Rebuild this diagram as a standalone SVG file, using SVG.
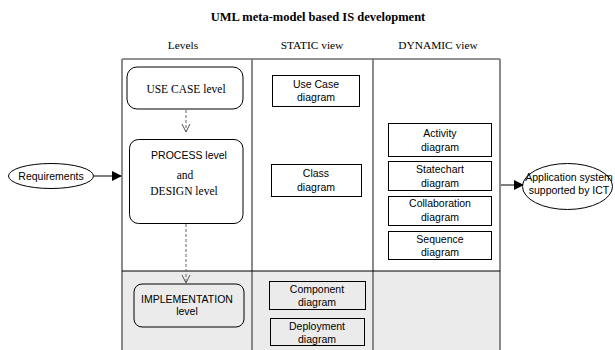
<svg xmlns="http://www.w3.org/2000/svg" width="615" height="350" viewBox="0 0 615 350">
  <style>
    .serif { font-family: "Liberation Serif", "Times New Roman", serif; fill: #000; }
    .sans { font-family: "Liberation Sans", Arial, sans-serif; font-size: 10.5px; fill: #000; }
    .hdr { font-size: 11.4px; }
    .lvl { fill: #fff; stroke: #000; stroke-width: 1; }
    .dia { fill: #fff; stroke: #000; stroke-width: 1; }
    .band { fill: #ebebeb; }
    .col { stroke: #6e6e6e; stroke-width: 1.6; fill: none; }
    .dash { stroke: #666; stroke-width: 1; stroke-dasharray: 3 2; fill: none; }
    .flow { stroke: #000; stroke-width: 1; fill: none; }
  </style>
  <defs>
    <marker id="open" viewBox="0 0 10 10" refX="9" refY="5" markerWidth="10" markerHeight="10" markerUnits="userSpaceOnUse" orient="auto">
      <path d="M1,1 L9,5 L1,9" fill="none" stroke="#555" stroke-width="1"/>
    </marker>
    <marker id="solid" viewBox="0 0 10 10" refX="9" refY="5" markerWidth="10" markerHeight="10" markerUnits="userSpaceOnUse" orient="auto">
      <path d="M0,0 L10,5 L0,10 Z" fill="#000"/>
    </marker>
  </defs>

  <rect width="615" height="350" fill="#fff"/>

  <!-- title and column headers -->
  <text class="serif" x="318" y="21" font-size="12.5" font-weight="bold" text-anchor="middle">UML meta-model based IS development</text>
  <text class="serif hdr" x="183" y="49" text-anchor="middle">Levels</text>
  <text class="serif hdr" x="312" y="49" text-anchor="middle">STATIC view</text>
  <text class="serif hdr" x="438" y="49" text-anchor="middle">DYNAMIC view</text>

  <!-- grid: implementation band and columns -->
  <g id="grid">
    <rect class="band" x="122" y="271" width="378" height="79"/>
    <line class="col" x1="122" y1="59" x2="500" y2="59"/>
    <line class="col" x1="122" y1="59" x2="122" y2="350"/>
    <line class="col" x1="252" y1="59" x2="252" y2="350"/>
    <line class="col" x1="373" y1="59" x2="373" y2="350"/>
    <line class="col" x1="500" y1="59" x2="500" y2="350"/>
    <line x1="122" y1="271" x2="500" y2="271" stroke="#000" stroke-width="1.2"/>
  </g>

  <!-- connectors -->
  <g id="connectors">
    <line class="dash" x1="186" y1="110" x2="186" y2="132" marker-end="url(#open)"/>
    <line class="dash" x1="186" y1="224" x2="186" y2="283" marker-end="url(#open)"/>
    <line class="flow" x1="94" y1="176" x2="121" y2="176" marker-end="url(#solid)"/>
    <line class="flow" x1="501" y1="185" x2="523" y2="185" marker-end="url(#solid)"/>
  </g>

  <!-- external actors -->
  <g id="requirements">
    <ellipse cx="51" cy="176" rx="42.5" ry="12.5" fill="#fff" stroke="#000"/>
    <text class="sans" x="51" y="180" text-anchor="middle">Requirements</text>
  </g>
  <g id="application-system">
    <ellipse cx="567.5" cy="186.5" rx="45" ry="23" fill="#fff" stroke="#000"/>
    <text class="sans" x="569" y="181" text-anchor="middle">Application system</text>
    <text class="sans" x="569" y="194" text-anchor="middle">supported by ICT</text>
  </g>

  <!-- levels -->
  <g id="use-case-level">
    <rect class="lvl" x="127" y="67" width="116" height="42" rx="10"/>
    <text class="serif" x="186" y="93" font-size="11.5" text-anchor="middle">USE CASE level</text>
  </g>
  <g id="process-design-level">
    <rect class="lvl" x="129.5" y="139.5" width="113.5" height="84" rx="9"/>
    <text class="sans" x="189" y="159" font-size="11" text-anchor="middle">PROCESS level</text>
    <text class="serif" x="185" y="179" font-size="11.5" text-anchor="middle">and</text>
    <text class="serif" x="184" y="195" font-size="11.5" text-anchor="middle">DESIGN level</text>
  </g>
  <g id="implementation-level">
    <rect class="lvl band" x="134" y="284" width="110" height="43" rx="8"/>
    <text class="sans" x="187" y="303" text-anchor="middle">IMPLEMENTATION</text>
    <text class="sans" x="187" y="315" text-anchor="middle">level</text>
  </g>

  <!-- static view diagrams -->
  <g id="use-case-diagram">
    <rect class="dia" x="272.5" y="75.5" width="87" height="31"/>
    <text class="sans" x="316" y="88" text-anchor="middle">Use Case</text>
    <text class="sans" x="316" y="101" text-anchor="middle">diagram</text>
  </g>
  <g id="class-diagram">
    <rect class="dia" x="271.5" y="164.5" width="90" height="32"/>
    <text class="sans" x="316" y="177" text-anchor="middle">Class</text>
    <text class="sans" x="316" y="191" text-anchor="middle">diagram</text>
  </g>
  <g id="component-diagram">
    <rect class="dia band" x="269.5" y="281.5" width="96" height="28"/>
    <text class="sans" x="317" y="293" text-anchor="middle">Component</text>
    <text class="sans" x="317" y="306" text-anchor="middle">diagram</text>
  </g>
  <g id="deployment-diagram">
    <rect class="dia band" x="270.5" y="318.5" width="94" height="27"/>
    <text class="sans" x="317" y="330" text-anchor="middle">Deployment</text>
    <text class="sans" x="317" y="343" text-anchor="middle">diagram</text>
  </g>

  <!-- dynamic view diagrams -->
  <g id="activity-diagram">
    <rect class="dia" x="388.5" y="123.5" width="103" height="33"/>
    <text class="sans" x="440" y="137" text-anchor="middle">Activity</text>
    <text class="sans" x="440" y="151" text-anchor="middle">diagram</text>
  </g>
  <g id="statechart-diagram">
    <rect class="dia" x="388.5" y="161.5" width="103" height="29"/>
    <text class="sans" x="440" y="173" text-anchor="middle">Statechart</text>
    <text class="sans" x="440" y="187" text-anchor="middle">diagram</text>
  </g>
  <g id="collaboration-diagram">
    <rect class="dia" x="388.5" y="196.5" width="103" height="29"/>
    <text class="sans" x="440" y="207" text-anchor="middle">Collaboration</text>
    <text class="sans" x="440" y="221" text-anchor="middle">diagram</text>
  </g>
  <g id="sequence-diagram">
    <rect class="dia" x="388.5" y="231.5" width="103" height="28"/>
    <text class="sans" x="440" y="243" text-anchor="middle">Sequence</text>
    <text class="sans" x="440" y="256" text-anchor="middle">diagram</text>
  </g>
</svg>
